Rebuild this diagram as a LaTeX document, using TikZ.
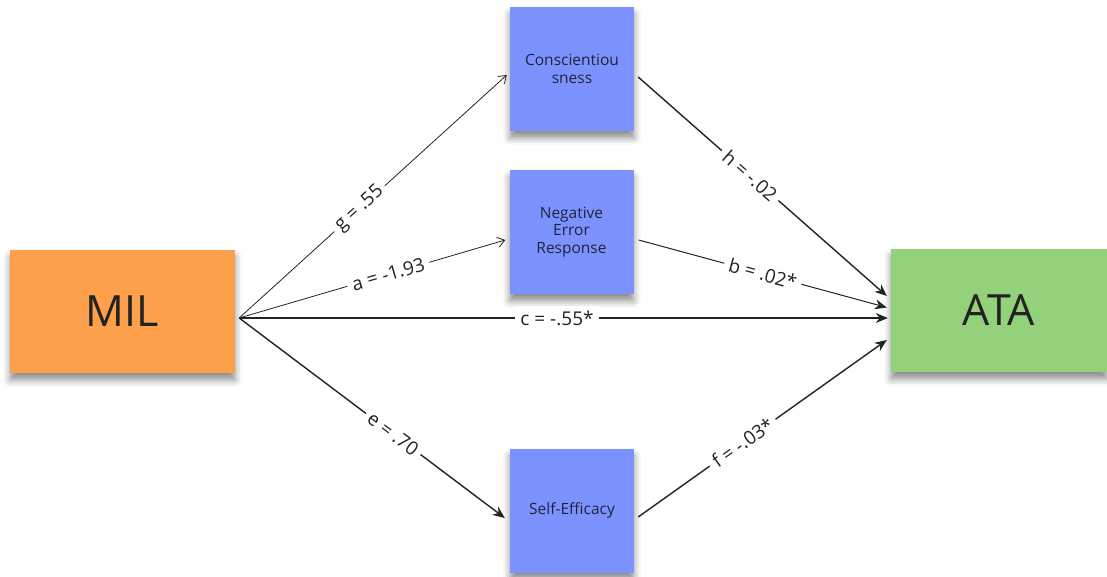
\documentclass[tikz,border=0pt]{standalone}
\usepackage{fontspec}
\setmainfont{Open Sans}
\usetikzlibrary{arrows.meta,shadows.blur}
\definecolor{milc}{HTML}{FD9F4B}
\definecolor{medc}{HTML}{7C93FF}
\definecolor{atac}{HTML}{93D27B}
\definecolor{ink}{HTML}{222222}
\definecolor{navy}{HTML}{1E2438}
\tikzset{
  box/.style={rectangle, inner sep=0pt, align=center,
    blur shadow={shadow xshift=0pt, shadow yshift=-7pt, shadow blur radius=7pt, shadow opacity=45}},
  bigbox/.style={box, font=\fontsize{43}{45}\selectfont, text=ink},
  medbox/.style={box, fill=medc, minimum width=124pt, minimum height=124pt,
    font=\fontsize{15.5}{17.5}\selectfont, text=navy},
  lbl/.style={sloped, fill=white, inner sep=5pt, font=\fontsize{19}{21}\selectfont, text=ink},
  thinarr/.style={draw=ink, line width=0.8pt, -{Straight Barb[length=7pt,width=10pt]}},
  fatarr/.style={draw=ink, line width=1.4pt, -{Stealth[length=12pt,width=10pt]}},
  medarr/.style={draw=ink, line width=1.0pt, -{Stealth[length=12pt,width=10pt]}},
}
\begin{document}
\begin{tikzpicture}[x=1pt,y=-1pt]
\useasboundingbox (0,0) rectangle (1107,577);
\node[bigbox, fill=milc, minimum width=225pt, minimum height=123pt] (MIL) at (122.5,311.5) {MIL};
\node[bigbox, fill=atac, minimum width=216pt, minimum height=123pt] (ATA) at (999,310.5) {ATA};
\node[medbox] (C) at (572,69) {Conscientiou\\sness};
\node[medbox] (N) at (571.5,232) {Negative\\Error\\Response};
\node[medbox] (S) at (572,510.5) {Self-Efficacy};

\coordinate (mo) at ([shift={(4,6.5)}]MIL.east);
\coordinate (cin) at ([shift={(-3,6)}]C.west);
\coordinate (nin) at ([shift={(-4,8)}]N.west);
\coordinate (sin) at ([shift={(-5,7.5)}]S.west);
\coordinate (cout) at ([shift={(4,8)}]C.east);
\coordinate (nout) at ([shift={(5,8)}]N.east);
\coordinate (sout) at ([shift={(4,6.5)}]S.east);
\coordinate (ah) at ([shift={(-4,-14.5)}]ATA.west);
\coordinate (ab) at ([shift={(-4,-3)}]ATA.west);
\coordinate (ac) at ([shift={(-3,7.5)}]ATA.west);
\coordinate (af) at ([shift={(-4,29.5)}]ATA.west);

\draw[thinarr] (mo) -- node[lbl, pos=0.45] {g = .55} (cin);
\draw[thinarr] (mo) -- node[lbl, pos=0.56] {a = -1.93} (nin);
\draw[fatarr] (mo) -- node[lbl, pos=0.49] {c = -.55*} (ac);
\draw[fatarr] (mo) -- node[lbl, pos=0.58] {e = .70} (sin);
\draw[fatarr] (cout) -- node[lbl, pos=0.45] {h = -.02} (ah);
\draw[medarr] (nout) -- node[lbl, pos=0.5] {b = .02*} (ab);
\draw[fatarr] (sout) -- node[lbl, pos=0.42] {f = -.03*} (af);
\end{tikzpicture}
\end{document}
